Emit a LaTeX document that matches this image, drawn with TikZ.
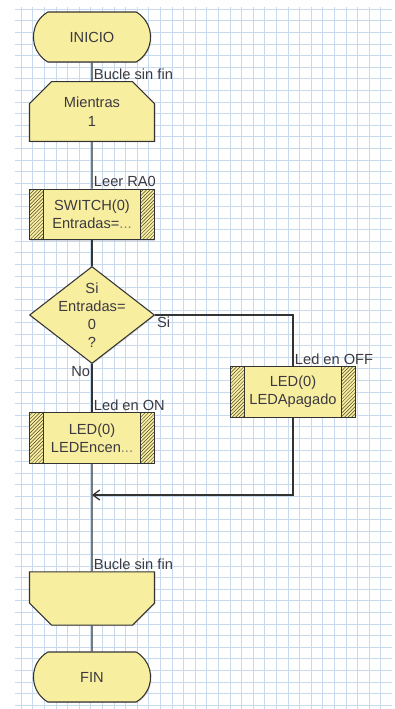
\documentclass[tikz,border=0pt]{standalone}
\usepackage{fontspec}
\setmainfont{Liberation Sans}
\usetikzlibrary{arrows.meta,calc,positioning,shapes.geometric,shapes.misc,patterns,shadows}
\definecolor{BoxFill}{HTML}{F8EEA0}
\definecolor{EdgeGray}{HTML}{333333}
\definecolor{GridBlue}{HTML}{C9D9EE}
\definecolor{TextGray}{HTML}{3C3A40}
\definecolor{HatchOlive}{HTML}{4E4828}

\begin{document}
\begin{tikzpicture}[x=0.3mm,y=-0.3mm,
    every node/.style={font=\fontsize{12.5}{15.5}\selectfont,text=TextGray},
    blk/.style={draw=EdgeGray,line width=0.9pt,fill=BoxFill,align=center,
                drop shadow={opacity=0.3,shadow xshift=0.8pt,shadow yshift=-0.8pt}},
    term/.style={blk,rounded rectangle,rounded rectangle arc length=120,
                 minimum width=37.5mm,minimum height=15mm},
    loopbegin/.style={blk,chamfered rectangle,chamfered rectangle corners={north west,north east},
                 chamfered rectangle xsep=2.4mm,chamfered rectangle ysep=4.2mm,
                 minimum width=37.5mm,minimum height=12.3mm,inner sep=1pt},
    loopfinish/.style={blk,chamfered rectangle,chamfered rectangle corners={south west,south east},
                 chamfered rectangle xsep=3.3mm,chamfered rectangle ysep=3.3mm,
                 minimum width=37.5mm,minimum height=14.7mm,inner sep=1pt},
    callbox/.style={blk,rectangle,minimum width=37.5mm,minimum height=15.2mm,inner xsep=4.4mm,
      path picture={
        \fill[pattern=north east lines,pattern color=HatchOlive]
          (path picture bounding box.south west) rectangle ([xshift=4.2mm]path picture bounding box.north west);
        \fill[pattern=north east lines,pattern color=HatchOlive]
          (path picture bounding box.south east) rectangle ([xshift=-4.2mm]path picture bounding box.north east);
        \draw[EdgeGray,line width=0.9pt] ([xshift=4.2mm]path picture bounding box.south west)
          -- ([xshift=4.2mm]path picture bounding box.north west);
        \draw[EdgeGray,line width=0.9pt] ([xshift=-4.2mm]path picture bounding box.south east)
          -- ([xshift=-4.2mm]path picture bounding box.north east);
      }},
    decision/.style={blk,diamond,minimum width=37.5mm,minimum height=29.1mm,inner sep=0pt},
    lbl/.style={inner sep=1.5pt},
    conn/.style={draw=EdgeGray,line width=1.1pt},
    arr/.style={-{Straight Barb[length=2mm,width=3mm]}},
    gridline/.style={GridBlue,line width=0.5pt}]
  \useasboundingbox (0,0) rectangle (395,709);
  % squared paper
  \fill[white] (0,0) rectangle (395,709);
  \foreach \gx in {21.1,32.7,...,392} \draw[gridline] (\gx,7) -- (\gx,709);
  \foreach \gy in {9.1,20.7,...,709} \draw[gridline] (15,\gy) -- (392,\gy);

  \node[term] (inicio) at (92,37) {INICIO};
  \node[loopbegin] (mientras) at (92,111.5) {\\[-6pt]Mientras\\1};
  \node[callbox] (switch) at (92,214.5) {SWITCH(0)\\Entradas={\color{gray}...}};
  \node[decision,label={[align=center]center:Si\\Entradas=\\0\\?}] (cond) at (92,315) {};
  \node[callbox] (ledon) at (92,438) {LED(0)\\LEDEncen{\color{gray}...}};
  \node[callbox] (ledoff) at (293,392) {LED(0)\\LEDApagado};
  \node[loopfinish] (bucle) at (92,598.5) {\phantom{Mientras}\\\phantom{1}};
  \node[term] (fin) at (92,677) {FIN};
  \coordinate (merge) at (ledon |- 0,495);

  \draw[conn] (inicio) -- (mientras);
  \draw[conn] (mientras) -- (switch);
  \draw[conn] (switch) -- (cond);
  \draw[conn] (cond.south) -- (ledon);
  \draw[conn] (cond.east) -| (ledoff.north);
  \draw[conn] (ledon) -- (bucle);
  \draw[conn,arr] (ledoff.south) |- (merge);
  \draw[conn] (bucle) -- (fin);

  \node[lbl,anchor=south west] at (mientras.north) {Bucle sin fin};
  \node[lbl,anchor=south west] at (switch.north) {Leer RA0};
  \node[lbl,anchor=north west] at (cond.east) {Si};
  \node[lbl,anchor=north east] at (cond.south) {No};
  \node[lbl,anchor=south west] at (ledon.north) {Led en ON};
  \node[lbl,anchor=south west] at (ledoff.north) {Led en OFF};
  \node[lbl,anchor=south west] at (bucle.north) {Bucle sin fin};
\end{tikzpicture}
\end{document}
